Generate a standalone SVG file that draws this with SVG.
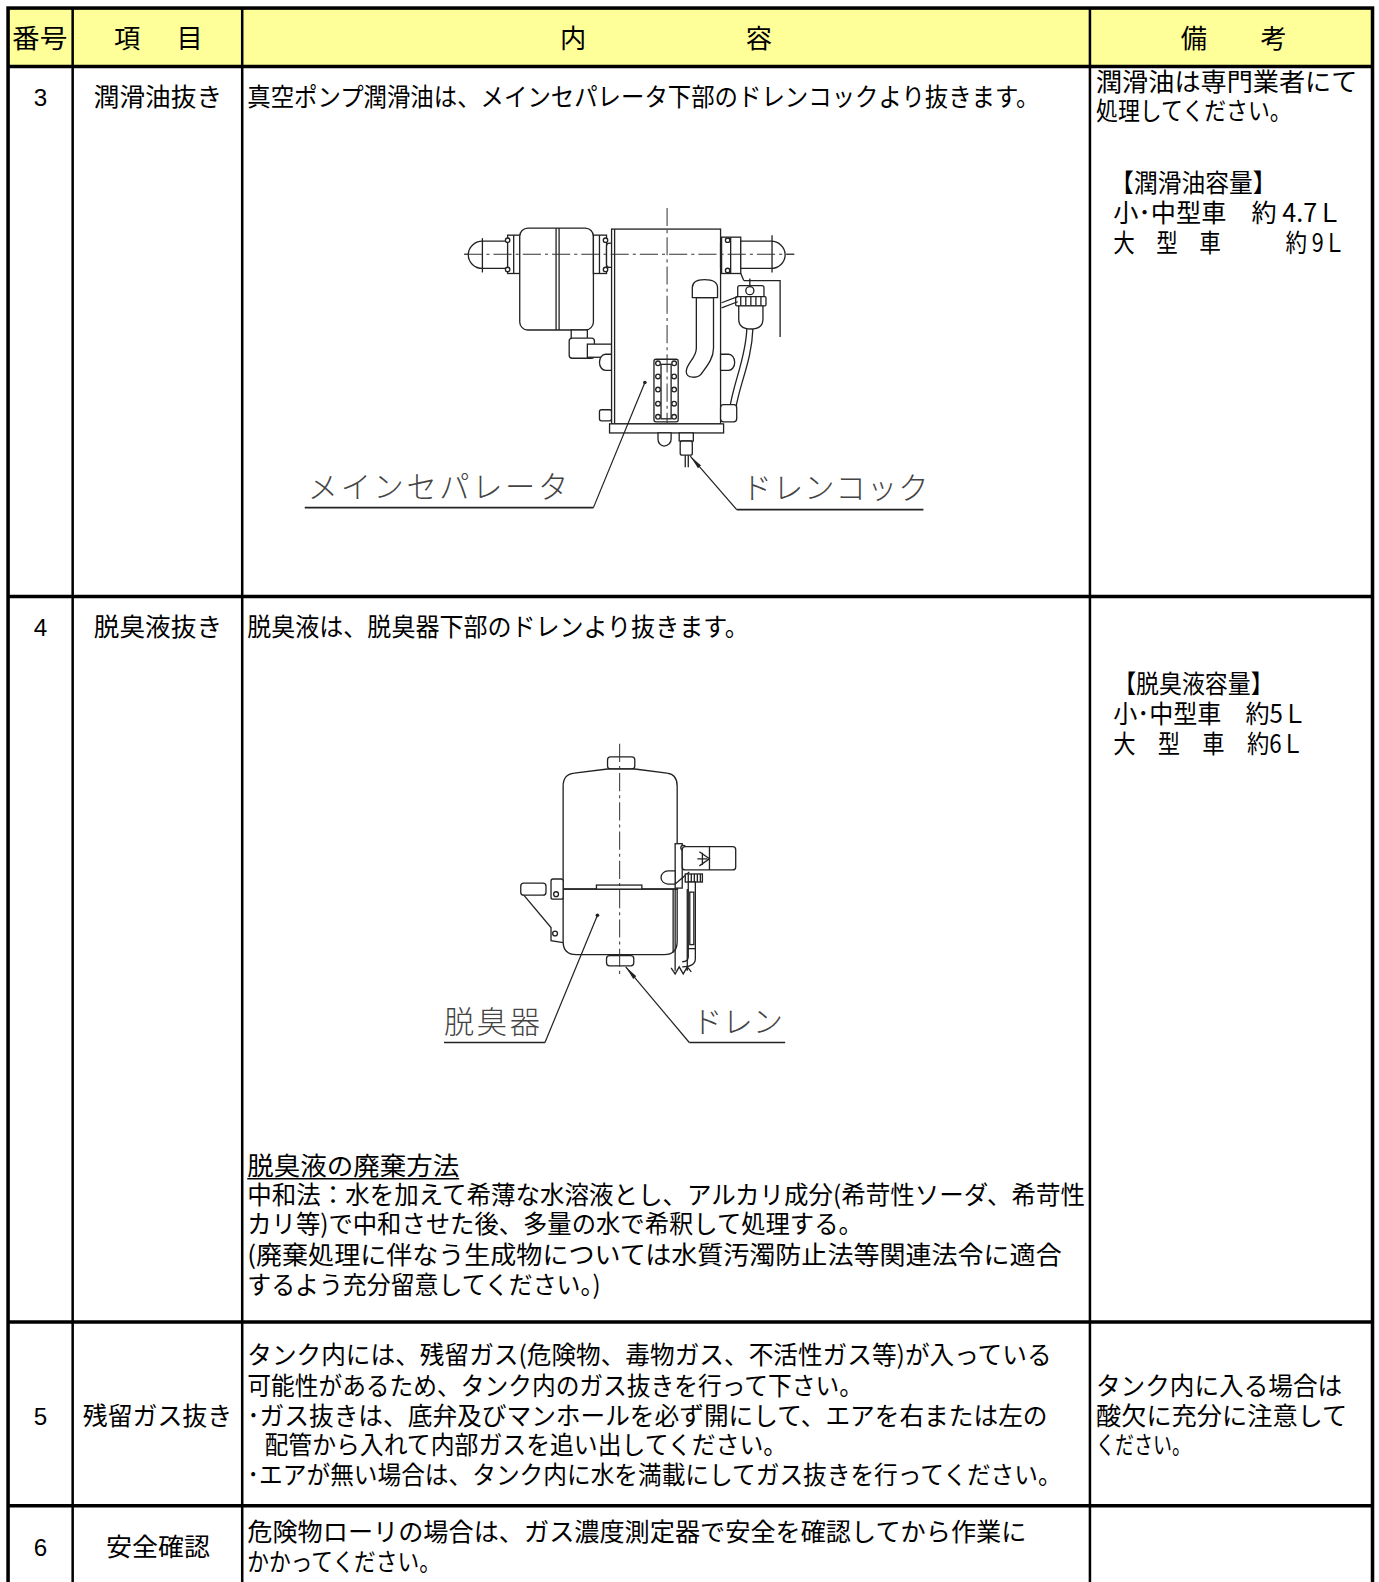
<svg xmlns="http://www.w3.org/2000/svg" width="1379" height="1582" viewBox="0 0 1379 1582">
<style>
.t{font-family:"Noto Sans CJK JP","Noto Sans CJK SC",sans-serif;font-size:25px;fill:#000}
.h{font-family:"Noto Sans CJK JP","Noto Sans CJK SC",sans-serif;font-size:26px;fill:#000}
.n{font-family:"Liberation Sans",Arial,sans-serif;font-size:24px;fill:#000}
.lbl{font-family:"Noto Sans CJK JP","Noto Sans CJK SC",sans-serif;font-size:30px;fill:#444;font-weight:300}
.grid{stroke:#000;fill:none}
.d{fill:#fff;stroke:#222;stroke-width:1.3}
.dl{fill:none;stroke:#222;stroke-width:1.3}
.c{fill:none;stroke:#333;stroke-width:1;stroke-dasharray:18 4 3 4}
.ld{fill:none;stroke:#222;stroke-width:1.2}
.ul{fill:none;stroke:#222;stroke-width:1.6}
</style>
<defs>
<marker id="arr" viewBox="0 0 14 6" refX="14" refY="3" markerWidth="14" markerHeight="6" markerUnits="userSpaceOnUse" orient="auto">
<path d="M0,1 L14,3 L0,5 Z" fill="#222"/>
</marker>
</defs>
<rect width="1379" height="1582" fill="#fff"/>
<g transform="scale(1.0092)">

<g id="header">
<rect x="8" y="8" width="1352" height="58" fill="#FFFF99"/>
<text class="h" x="12" y="48" textLength="55" lengthAdjust="spacingAndGlyphs">番号</text>
<text class="h" x="126" y="48" text-anchor="middle">項</text>
<text class="h" x="188" y="48" text-anchor="middle">目</text>
<text class="h" x="568" y="48" text-anchor="middle">内</text>
<text class="h" x="752" y="48" text-anchor="middle">容</text>
<text class="h" x="1183" y="48" text-anchor="middle">備</text>
<text class="h" x="1262" y="48" text-anchor="middle">考</text>
</g>

<g id="grid" class="grid">
<rect x="8" y="8" width="1352" height="1590" stroke-width="3.5"/>
<line x1="8" y1="66" x2="1360" y2="66" stroke-width="3.5"/>
<line x1="8" y1="591" x2="1360" y2="591" stroke-width="3.5"/>
<line x1="8" y1="1310" x2="1360" y2="1310" stroke-width="3.5"/>
<line x1="8" y1="1492" x2="1360" y2="1492" stroke-width="3.5"/>
<line x1="72" y1="8" x2="72" y2="1582" stroke-width="2.5"/>
<line x1="240" y1="8" x2="240" y2="1582" stroke-width="2.5"/>
<line x1="1080" y1="8" x2="1080" y2="1582" stroke-width="2.5"/>
</g>

<g id="row3">
<text class="n" x="40" y="105" text-anchor="middle">3</text>
<text class="t" x="93" y="105" textLength="127" lengthAdjust="spacingAndGlyphs">潤滑油抜き</text>
<text class="t" x="245" y="105" textLength="785" lengthAdjust="spacingAndGlyphs">真空ポンプ潤滑油は、メインセパレータ下部のドレンコックより抜きます。</text>
<text class="t" x="1086" y="90" textLength="259" lengthAdjust="spacingAndGlyphs">潤滑油は専門業者にて</text>
<text class="t" x="1086" y="119" textLength="194" lengthAdjust="spacingAndGlyphs">処理してください。</text>
<text class="t" x="1100" y="190" textLength="165" lengthAdjust="spacingAndGlyphs">【潤滑油容量】</text>
<text class="t" x="1103" y="220" textLength="227" lengthAdjust="spacingAndGlyphs">小･中型車　約 4.7Ｌ</text>
<text class="t" x="1103" y="250" textLength="230" lengthAdjust="spacingAndGlyphs">大　型　車　　　約 9Ｌ</text>
</g>

<g id="drawing-main-separator">
<line class="c" x1="460" y1="252" x2="787" y2="252"/>
<path class="d" d="M503,239 H478 A14,13.5 0 0 0 478,266 H503 Z"/>
<line class="dl" x1="478" y1="236" x2="478" y2="270"/>
<rect class="d" x="503" y="233" width="12" height="38"/>
<line class="dl" x1="509" y1="233" x2="509" y2="271"/>
<circle class="d" cx="503" cy="238" r="2.2"/>
<circle class="d" cx="503" cy="267" r="2.2"/>
<rect class="d" x="515" y="226" width="73" height="101" rx="8"/>
<line class="dl" x1="551" y1="226" x2="551" y2="327"/>
<line class="dl" x1="554" y1="226" x2="554" y2="327"/>
<rect class="d" x="588" y="233" width="13" height="38"/>
<line class="dl" x1="594" y1="233" x2="594" y2="271"/>
<circle class="d" cx="600" cy="238" r="2.2"/>
<circle class="d" cx="600" cy="267" r="2.2"/>
<rect class="d" x="601" y="241" width="7" height="24" rx="3"/>
<rect class="d" x="566" y="327" width="16" height="9"/>
<rect class="d" x="564" y="335" width="25" height="20" rx="3"/>
<rect class="d" x="582" y="341" width="24" height="13"/>
<path class="d" d="M606,351 H600 A6,8 0 0 0 600,367 H606 Z"/>
<rect class="d" x="594" y="406" width="12" height="11" rx="2"/>
<rect class="d" x="606" y="227" width="108" height="193"/>
<line class="dl" x1="609" y1="227" x2="609" y2="420"/>
<rect class="d" x="604" y="420" width="113" height="9"/>
<path class="d" d="M714,241 H718 A4,12 0 0 1 718,265 H714 Z"/>
<rect class="d" x="715" y="235" width="19" height="36"/>
<line class="dl" x1="724" y1="235" x2="724" y2="271"/>
<circle class="d" cx="721" cy="238" r="2.2"/>
<circle class="d" cx="721" cy="268" r="2.2"/>
<path class="d" d="M734,239 H764 A14,13.5 0 0 1 764,266 H734 Z"/>
<line class="dl" x1="765" y1="233" x2="765" y2="270"/>
<line class="c" x1="460" y1="252" x2="787" y2="252"/>
<polyline class="dl" points="737,278 773,278 773,334"/>
<line class="dl" x1="734" y1="271" x2="737" y2="278"/>
<rect class="d" x="731" y="283" width="26" height="12" rx="2"/>
<rect class="d" x="729" y="294" width="30" height="9" rx="1"/>
<line class="dl" x1="734" y1="294" x2="734" y2="303"/>
<line class="dl" x1="739" y1="294" x2="739" y2="303"/>
<line class="dl" x1="744" y1="294" x2="744" y2="303"/>
<line class="dl" x1="749" y1="294" x2="749" y2="303"/>
<line class="dl" x1="754" y1="294" x2="754" y2="303"/>
<path class="d" d="M732,303 V316 Q732,326 744,326 Q756,326 756,316 V303 Z"/>
<circle class="d" cx="743" cy="288" r="4"/>
<line class="dl" x1="743" y1="276" x2="743" y2="284"/>
<path class="dl" d="M715,300 L731,294 M715,305 L731,299"/>
<path class="dl" d="M740,326 C739,355 727,378 723,405 M746,326 C745,357 733,380 729,405"/>
<path class="d" d="M714,351 H722 A6,8 0 0 1 722,367 H714 Z"/>
<rect class="d" x="714" y="401" width="16" height="17" rx="3"/>
<path class="d" d="M690,295 L690,345 C690,355 680,360 680,368 C680,375 692,376 696,369 C702,361 707,354 707,345 L707,295 Z"/>
<path class="d" d="M686,295 L686,285 Q686,277 698,277 Q711,277 711,285 L711,295 Z"/>
<rect class="d" x="648" y="356" width="24" height="62" rx="2"/>
<rect class="d" x="655" y="361" width="10" height="54"/>
<g class="d">
<circle cx="652" cy="360" r="2.3"/><circle cx="668" cy="360" r="2.3"/>
<circle cx="652" cy="373" r="2.3"/><circle cx="668" cy="373" r="2.3"/>
<circle cx="652" cy="386" r="2.3"/><circle cx="668" cy="386" r="2.3"/>
<circle cx="652" cy="400" r="2.3"/><circle cx="668" cy="400" r="2.3"/>
<circle cx="652" cy="413" r="2.3"/><circle cx="668" cy="413" r="2.3"/>
</g>
<line class="c" x1="661" y1="206" x2="661" y2="420"/>
<path class="d" d="M652,429 V435 Q652,441 658,442 Q665,441 665,435 V429 Z"/>
<rect class="d" x="673" y="429" width="14" height="8"/>
<rect class="d" x="674" y="437" width="12" height="14" rx="2"/>
<line class="dl" x1="679" y1="451" x2="679" y2="463"/>
<line class="dl" x1="682" y1="451" x2="682" y2="463"/>
<circle cx="639" cy="379" r="1.8" fill="#222"/>
</g>

<g id="label-main-separator">
<text class="lbl" x="305" y="493" textLength="258" lengthAdjust="spacing">メインセパレータ</text>
<line class="ul" x1="302" y1="503" x2="588" y2="503"/>
</g>
<g id="label-drain-cock">
<text class="lbl" x="735" y="494" textLength="185" lengthAdjust="spacing">ドレンコック</text>
<line class="ul" x1="730" y1="505" x2="915" y2="505"/>
</g>

<g id="row4">
<text class="n" x="40" y="630" text-anchor="middle">4</text>
<text class="t" x="93" y="630" textLength="127" lengthAdjust="spacingAndGlyphs">脱臭液抜き</text>
<text class="t" x="245" y="630" textLength="497" lengthAdjust="spacingAndGlyphs">脱臭液は、脱臭器下部のドレンより抜きます。</text>
<text class="t" x="1103" y="687" textLength="159" lengthAdjust="spacingAndGlyphs">【脱臭液容量】</text>
<text class="t" x="1103" y="716" textLength="192" lengthAdjust="spacingAndGlyphs">小･中型車　約5Ｌ</text>
<text class="t" x="1103" y="746" textLength="189" lengthAdjust="spacingAndGlyphs">大　型　車　約6Ｌ</text>
<text class="t" x="245" y="1164" textLength="210" lengthAdjust="spacingAndGlyphs">脱臭液の廃棄方法</text>
<line x1="245" y1="1168" x2="455" y2="1168" stroke="#000" stroke-width="1.5"/>
<text class="t" x="245" y="1193" textLength="830" lengthAdjust="spacingAndGlyphs">中和法：水を加えて希薄な水溶液とし、アルカリ成分(希苛性ソーダ、希苛性</text>
<text class="t" x="245" y="1222" textLength="610" lengthAdjust="spacingAndGlyphs">カリ等)で中和させた後、多量の水で希釈して処理する。</text>
<text class="t" x="245" y="1252" textLength="807" lengthAdjust="spacingAndGlyphs">(廃棄処理に伴なう生成物については水質汚濁防止法等関連法令に適合</text>
<text class="t" x="245" y="1282" textLength="350" lengthAdjust="spacingAndGlyphs">するよう充分留意してください。)</text>
</g>

<g id="drawing-deodorizer">
<rect class="d" x="602" y="750" width="27" height="12" rx="3"/>
<path class="d" d="M558,881 L558,779 Q558,767 569,766 L602,762 L629,762 L661,766 Q671,767 671,779 L671,881 Z"/>
<path class="d" d="M558,881 L558,933 Q558,946 571,946 L658,946 Q671,946 671,933 L671,881 Z"/>
<line class="dl" x1="548" y1="881" x2="672" y2="881"/>
<line class="dl" x1="667" y1="881" x2="667" y2="944"/>
<rect class="d" x="591" y="877" width="45" height="4"/>
<rect class="d" x="546" y="871" width="12" height="20" rx="2"/>
<circle class="d" cx="551" cy="886" r="2.4"/>
<rect class="d" x="516" y="875" width="25" height="12" rx="3"/>
<path class="dl" d="M519,887 L546,919 L546,932 L558,934"/>
<circle class="d" cx="550" cy="925" r="2.4"/>
<rect class="d" x="601" y="947" width="27" height="10" rx="3"/>
<line class="c" x1="614" y1="737" x2="614" y2="966"/>
<rect class="d" x="669" y="836" width="7" height="44"/>
<circle class="d" cx="677" cy="840" r="2.4"/>
<rect class="d" x="676" y="839" width="53" height="23" rx="3"/>
<line class="dl" x1="703" y1="839" x2="703" y2="862"/>
<path class="dl" d="M693,844 L703,851 L693,858 M696,845 V857 M691,851 H701"/>
<path class="d" d="M669,863 H662 A7,6.5 0 0 0 662,876 H669 Z"/>
<path class="dl" d="M669,876 L683,864"/>
<rect class="d" x="679" y="866" width="17" height="8"/>
<path class="dl" d="M682,866 V874 M685,866 V874 M688,866 V874 M691,866 V874 M694,866 V874"/>
<path class="dl" d="M669,881 V962 M681,881 V962 M665,959 L669,965 L673,958 L677,965 L681,958 L685,963"/>
<rect class="d" x="682" y="874" width="7" height="66"/>
<rect class="d" x="683.5" y="884" width="4" height="52"/>
<path class="dl" d="M682,940 V948 Q682,953 676,953 M689,940 V950 Q689,958 676,958"/>
<circle cx="592" cy="907" r="1.8" fill="#222"/>
</g>

<g id="label-deodorizer">
<text class="lbl" x="440" y="1024" font-size="32" textLength="95" lengthAdjust="spacing">脱臭器</text>
<line class="ul" x1="440" y1="1033" x2="540" y2="1033"/>
</g>
<g id="label-drain">
<text class="lbl" x="686" y="1024" font-size="30" textLength="90" lengthAdjust="spacing">ドレン</text>
<line class="ul" x1="683" y1="1033" x2="778" y2="1033"/>
</g>

<g id="connectors">
<line class="ld" x1="588" y1="503" x2="639" y2="379"/>
<line class="ld" x1="730" y1="505" x2="684" y2="452" marker-end="url(#arr)"/>
<line class="ld" x1="540" y1="1033" x2="592" y2="907"/>
<line class="ld" x1="683" y1="1033" x2="620" y2="958" marker-end="url(#arr)"/>
</g>

<g id="row5">
<text class="n" x="40" y="1412" text-anchor="middle">5</text>
<text class="t" x="82" y="1412" textLength="148" lengthAdjust="spacingAndGlyphs">残留ガス抜き</text>
<text class="t" x="245" y="1352" textLength="797" lengthAdjust="spacingAndGlyphs">タンク内には、残留ガス(危険物、毒物ガス、不活性ガス等)が入っている</text>
<text class="t" x="245" y="1382" textLength="610" lengthAdjust="spacingAndGlyphs">可能性があるため、タンク内のガス抜きを行って下さい。</text>
<text class="t" x="245" y="1412" textLength="793" lengthAdjust="spacingAndGlyphs">･ガス抜きは、底弁及びマンホールを必ず開にして、エアを右または左の</text>
<text class="t" x="262" y="1441" textLength="518" lengthAdjust="spacingAndGlyphs">配管から入れて内部ガスを追い出してください。</text>
<text class="t" x="245" y="1470" textLength="807" lengthAdjust="spacingAndGlyphs">･エアが無い場合は、タンク内に水を満載にしてガス抜きを行ってください。</text>
<text class="t" x="1086" y="1382" textLength="244" lengthAdjust="spacingAndGlyphs">タンク内に入る場合は</text>
<text class="t" x="1086" y="1412" textLength="249" lengthAdjust="spacingAndGlyphs">酸欠に充分に注意して</text>
<text class="t" x="1086" y="1441" textLength="94" lengthAdjust="spacingAndGlyphs">ください。</text>
</g>

<g id="row6">
<text class="n" x="40" y="1542" text-anchor="middle">6</text>
<text class="t" x="105" y="1542" textLength="103" lengthAdjust="spacingAndGlyphs">安全確認</text>
<text class="t" x="245" y="1527" textLength="772" lengthAdjust="spacingAndGlyphs">危険物ローリの場合は、ガス濃度測定器で安全を確認してから作業に</text>
<text class="t" x="245" y="1557" textLength="192" lengthAdjust="spacingAndGlyphs">かかってください。</text>
</g>
</g>
</svg>
